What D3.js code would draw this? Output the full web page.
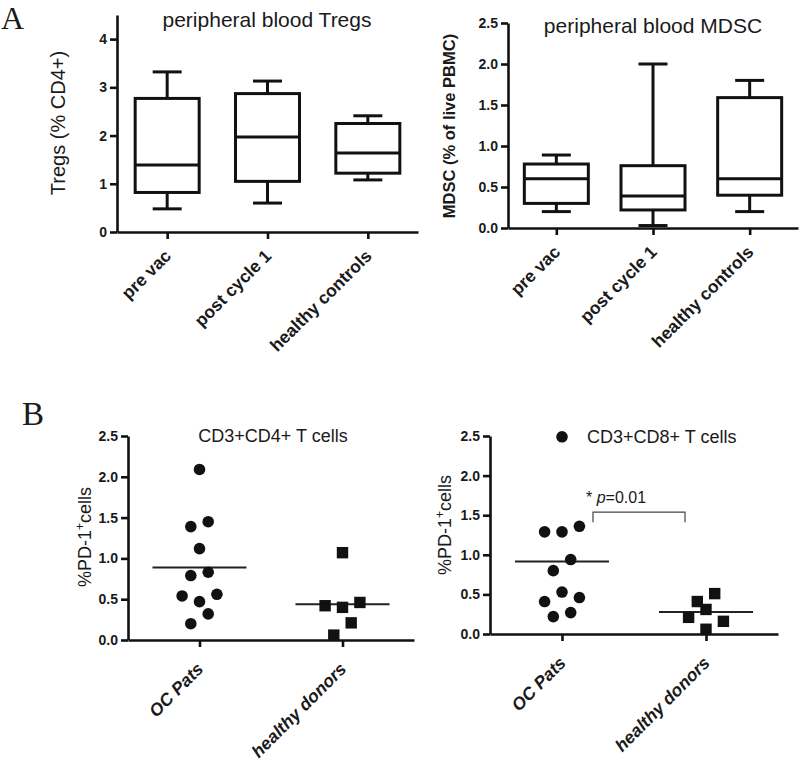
<!DOCTYPE html>
<html>
<head>
<meta charset="utf-8">
<script src="https://cdn.jsdelivr.net/npm/d3@7"></script>
<style>
  body { margin: 0; background: #fff; }
  text { font-family: "Liberation Sans", Arial, sans-serif; fill: #1a1a1a; }
</style>
</head>
<body>
<div id="chart"></div>
<script>
// ---- data ----
const boxCats = ["pre vac", "post cycle 1", "healthy controls"];

const tregsMin = [0.48, 0.60, 1.08];
const tregsQ1  = [0.82, 1.05, 1.22];
const tregsMed = [1.39, 1.97, 1.64];
const tregsQ3  = [2.77, 2.87, 2.25];
const tregsMax = [3.32, 3.13, 2.41];
const tregsTicks = [0, 1, 2, 3, 4];

const mdscMin = [0.20, 0.03, 0.20];
const mdscQ1  = [0.30, 0.22, 0.40];
const mdscMed = [0.60, 0.39, 0.60];
const mdscQ3  = [0.78, 0.76, 1.59];
const mdscMax = [0.89, 2.00, 1.80];
const pctTicks = [0, 0.5, 1.0, 1.5, 2.0, 2.5];

const scatterCats = ["OC Pats", "healthy donors"];
const cd4Pats   = [2.09, 1.39, 1.45, 1.12, 0.79, 0.83, 0.54, 0.47, 0.56, 0.20, 0.32];
const cd4Donors = [1.07, 0.42, 0.40, 0.46, 0.06, 0.21];
const cd8Pats   = [2.49, 1.29, 1.29, 1.36, 0.80, 0.94, 0.41, 0.53, 0.46, 0.22, 0.27];
const cd8Donors = [0.41, 0.51, 0.21, 0.31, 0.16, 0.06];
const cd8Bracket = [1.41, 1.54];   // leg bottom, bracket top
const cd8P = "0.01";

const svg = d3.select("#chart").append("svg")
    .attr("width", 800).attr("height", 762);

const ink = "#111";

function yAxis(g, x0, y, ticks, fmt) {
    let a = g.append("g")
        .attr("transform", "translate(" + x0 + ",0)")
        .call(d3.axisLeft(y).tickValues(ticks).tickSize(7).tickSizeOuter(0).tickPadding(3).tickFormat(fmt));
    a.selectAll("path, line").attr("stroke", ink).attr("stroke-width", 2.6);
    a.selectAll("text").attr("font-size", 14).attr("font-weight", "bold").attr("fill", "#222")
        .style("font-family", "'Liberation Sans', Arial, sans-serif");
}

function xAxis(g, x, y0, dx, dy, italic) {
    let a = g.append("g")
        .attr("transform", "translate(0," + y0 + ")")
        .call(d3.axisBottom(x).tickSize(7).tickSizeOuter(0));
    a.selectAll("path, line").attr("stroke", ink).attr("stroke-width", 2.6);
    a.selectAll("text").remove();
    g.append("g").selectAll("text")
        .data(x.domain())
        .enter().append("text")
        .attr("transform", d => "translate(" + (x(d) + dx) + "," + (y0 + dy) + ") rotate(-45)")
        .attr("text-anchor", "end")
        .attr("font-size", 17.5)
        .attr("font-weight", "bold")
        .attr("font-style", italic ? "italic" : "normal")
        .attr("fill", "#222")
        .text(d => d);
}

function boxPanel(o) {
    let g = svg.append("g");
    let x = d3.scalePoint().domain(boxCats).range([o.left, o.right]).padding(0.5);
    let y = d3.scaleLinear().domain([0, o.yMax]).range([o.bottom, o.top]);

    let rows = boxCats.map((c, i) => ({cat: c, min: o.min[i], q1: o.q1[i], med: o.med[i], q3: o.q3[i], max: o.max[i]}));
    let bw = 64, cw = 29;

    let b = g.append("g").attr("stroke", ink).attr("stroke-width", 3).attr("fill", "none");
    let item = b.selectAll("g").data(rows).enter().append("g");
    item.append("line")
        .attr("x1", d => x(d.cat)).attr("x2", d => x(d.cat))
        .attr("y1", d => y(d.max)).attr("y2", d => y(d.q3));
    item.append("line")
        .attr("x1", d => x(d.cat)).attr("x2", d => x(d.cat))
        .attr("y1", d => y(d.q1)).attr("y2", d => y(d.min));
    item.append("line")
        .attr("x1", d => x(d.cat) - cw / 2).attr("x2", d => x(d.cat) + cw / 2)
        .attr("y1", d => y(d.max)).attr("y2", d => y(d.max));
    item.append("line")
        .attr("x1", d => x(d.cat) - cw / 2).attr("x2", d => x(d.cat) + cw / 2)
        .attr("y1", d => y(d.min)).attr("y2", d => y(d.min));
    item.append("rect")
        .attr("x", d => x(d.cat) - bw / 2).attr("width", bw)
        .attr("y", d => y(d.q3)).attr("height", d => y(d.q1) - y(d.q3))
        .attr("fill", "#fff");
    item.append("line")
        .attr("x1", d => x(d.cat) - bw / 2).attr("x2", d => x(d.cat) + bw / 2)
        .attr("y1", d => y(d.med)).attr("y2", d => y(d.med));

    yAxis(g, o.left, y, o.ticks, o.fmt);
    xAxis(g, x, o.bottom, 5, 25, false);

    g.append("text")
        .attr("x", o.titleX).attr("y", o.titleY)
        .attr("text-anchor", "middle")
        .attr("font-size", 21)
        .attr("fill", "#333")
        .text(o.title);

    g.append("text")
        .attr("transform", "translate(" + o.labX + "," + o.labY + ") rotate(-90)")
        .attr("text-anchor", "middle")
        .attr("font-size", o.labSize)
        .attr("font-weight", o.labWeight)
        .attr("fill", "#333")
        .text(o.label);
}

// horizontal spread of points sharing a row, like the prism scatter
function swarm(vals, y) {
    let order = d3.range(vals.length).sort((a, b) => vals[b] - vals[a]);
    let rows = [];
    order.forEach(i => {
        let r = rows[rows.length - 1];
        if (r && Math.abs(y(vals[r[0]]) - y(vals[i])) < 13) r.push(i);
        else rows.push([i]);
    });
    let off = [];
    rows.forEach(r => {
        r.sort((a, b) => a - b);
        r.forEach((i, k) => { off[i] = (k - (r.length - 1) / 2) * 17.4; });
    });
    return off;
}

function scatterPanel(o) {
    let g = svg.append("g");
    let x = d3.scalePoint().domain(scatterCats).range([o.left, o.right]).padding(0.5);
    let y = d3.scaleLinear().domain([0, 2.5]).range([o.bottom, o.top]);

    let groups = [o.pats, o.donors];

    // mean lines
    g.append("g").selectAll("line")
        .data(groups)
        .enter().append("line")
        .attr("x1", (d, i) => x(scatterCats[i]) - 47)
        .attr("x2", (d, i) => x(scatterCats[i]) + 47)
        .attr("y1", d => y(d3.mean(d))).attr("y2", d => y(d3.mean(d)))
        .attr("stroke", "#222").attr("stroke-width", 2);

    let offP = swarm(o.pats, y);
    g.append("g").selectAll("circle")
        .data(o.pats)
        .enter().append("circle")
        .attr("cx", (d, i) => x(scatterCats[0]) + offP[i])
        .attr("cy", d => y(d))
        .attr("r", 5.8)
        .attr("fill", ink);

    let offD = swarm(o.donors, y);
    g.append("g").selectAll("rect")
        .data(o.donors)
        .enter().append("rect")
        .attr("x", (d, i) => x(scatterCats[1]) + offD[i] - 5.7)
        .attr("y", d => y(d) - 5.7)
        .attr("width", 11.4).attr("height", 11.4)
        .attr("fill", ink);

    yAxis(g, o.left, y, pctTicks, d3.format(".1f"));
    xAxis(g, x, o.bottom, 5, 30, true);

    g.append("text")
        .attr("x", o.titleX).attr("y", o.titleY)
        .attr("text-anchor", o.titleAnchor)
        .attr("font-size", 18)
        .attr("fill", "#333")
        .text(o.title);

    let lab = g.append("text")
        .attr("transform", "translate(" + o.labX + "," + o.labY + ") rotate(-90)")
        .attr("text-anchor", "middle")
        .attr("font-size", 18)
        .attr("fill", "#333");
    lab.append("tspan").text("%PD-1");
    lab.append("tspan").attr("font-size", 12).attr("dy", -7).text("+");
    lab.append("tspan").attr("dy", 7).text("cells");

    if (o.bracket) {
        let xl = x(scatterCats[0]) + 31, xr = x(scatterCats[1]) - 21;
        g.append("path")
            .attr("d", "M" + xl + "," + y(o.bracket[0]) + "V" + y(o.bracket[1]) + "H" + xr + "V" + y(o.bracket[0]))
            .attr("fill", "none").attr("stroke", "#444").attr("stroke-width", 1.2);
        let t = g.append("text")
            .attr("x", xl - 7).attr("y", y(o.bracket[1]) - 9)
            .attr("font-size", 16).attr("fill", "#222");
        t.append("tspan").text("* ");
        t.append("tspan").attr("font-style", "italic").text("p");
        t.append("tspan").text("=" + o.p);
    }
}

boxPanel({
    left: 117, right: 418, top: 15, bottom: 232, yMax: 4.5,
    ticks: tregsTicks, fmt: d3.format("d"),
    min: tregsMin, q1: tregsQ1, med: tregsMed, q3: tregsQ3, max: tregsMax,
    title: "peripheral blood Tregs", titleX: 267, titleY: 27,
    label: "Tregs (% CD4+)", labX: 65, labY: 123, labSize: 20, labWeight: "normal"
});

boxPanel({
    left: 508, right: 798, top: 23, bottom: 228, yMax: 2.5,
    ticks: pctTicks, fmt: d3.format(".1f"),
    min: mdscMin, q1: mdscQ1, med: mdscMed, q3: mdscQ3, max: mdscMax,
    title: "peripheral blood MDSC", titleX: 653, titleY: 33,
    label: "MDSC (% of live PBMC)", labX: 455, labY: 126, labSize: 16.5, labWeight: "bold"
});

scatterPanel({
    left: 128, right: 414, top: 436, bottom: 640,
    pats: cd4Pats, donors: cd4Donors,
    title: "CD3+CD4+ T cells", titleX: 273, titleY: 442, titleAnchor: "middle",
    labX: 91, labY: 537
});

scatterPanel({
    left: 490, right: 778, top: 436, bottom: 634,
    pats: cd8Pats, donors: cd8Donors,
    title: "CD3+CD8+ T cells", titleX: 587, titleY: 443, titleAnchor: "start",
    labX: 451, labY: 525,
    bracket: cd8Bracket, p: cd8P
});

// panel letters
svg.append("text").attr("x", 1).attr("y", 29)
    .style("font-family", "'Liberation Serif', 'Times New Roman', serif")
    .attr("font-size", 32).attr("fill", "#111").text("A");
svg.append("text").attr("x", 22).attr("y", 425)
    .style("font-family", "'Liberation Serif', 'Times New Roman', serif")
    .attr("font-size", 33).attr("fill", "#111").text("B");
</script>
</body>
</html>
